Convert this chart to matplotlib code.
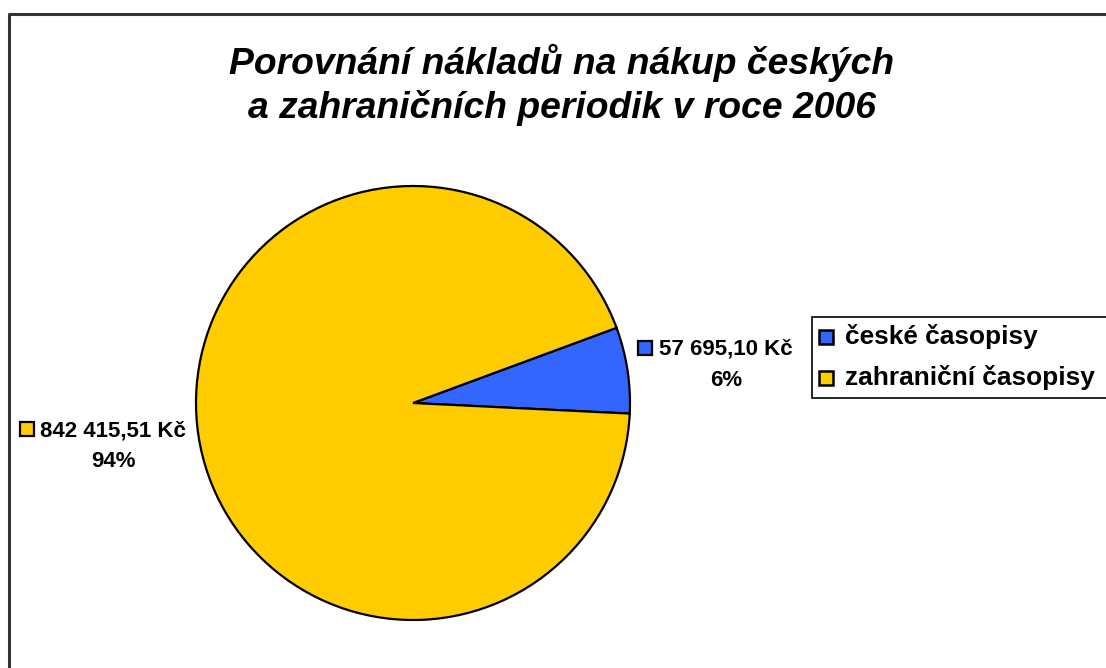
import matplotlib
matplotlib.use("Agg")
import matplotlib.pyplot as plt
from matplotlib.patches import Rectangle

categories = ["české časopisy", "zahraniční časopisy"]
costs = [57695.10, 842415.51]
cost_labels = ["57 695,10 Kč", "842 415,51 Kč"]
pct_labels = ["6%", "94%"]
COLORS = ["#3366FF", "#FFCC00"]

W, H = 1106, 668
plt.rcParams["font.family"] = ["Liberation Sans", "DejaVu Sans"]

fig = plt.figure(figsize=(W / 100, H / 100), dpi=100)
ax = fig.add_axes([0, 0, 1, 1])


def Y(py):
    # pixel row from the top -> data y
    return H - py


ax.pie(costs, colors=COLORS, startangle=-2.8, counterclock=True,
       center=(413, Y(403)), radius=217, frame=True,
       wedgeprops=dict(edgecolor="black", linewidth=1.6))
ax.set_xlim(0, W)
ax.set_ylim(0, H)
ax.set_aspect("equal")
ax.axis("off")

# chart border (left and top visible)
ax.plot([9, 9, W + 5], [-5, Y(14), Y(14)], color="#333333", lw=2.2, clip_on=False)

for line, base in [("Porovnání nákladů na nákup českých", 74),
                   ("a zahraničních periodik v roce 2006", 118)]:
    ax.text(562, Y(base), line, ha="center", va="baseline",
            fontsize=26.8, fontweight="bold", fontstyle="italic")

# data labels: (text centre x, first baseline, square x)
label_pos = [(726, 355, 638), (113, 436, 20)]
for (cx, base, sx), c, t, p in zip(label_pos, COLORS, cost_labels, pct_labels):
    ax.text(cx, Y(base), t, ha="center", va="baseline", fontsize=16.0, fontweight="bold")
    ax.text(cx, Y(base + 31), p, ha="center", va="baseline", fontsize=16.0, fontweight="bold")
    ax.add_patch(Rectangle((sx, Y(base)), 14, 14, facecolor=c, edgecolor="black", lw=1.6))

# legend box
ax.add_patch(Rectangle((812, Y(398)), 320, 81, facecolor="white", edgecolor="black",
                       lw=1.2, clip_on=False))
for i, (c, name) in enumerate(zip(COLORS, categories)):
    base = 344 + i * 41
    ax.add_patch(Rectangle((819, Y(base)), 14, 14, facecolor=c, edgecolor="black", lw=1.8))
    ax.text(845, Y(base), name, ha="left", va="baseline", fontsize=18.9, fontweight="bold")

fig.savefig("out.png", dpi=100, facecolor="white")
